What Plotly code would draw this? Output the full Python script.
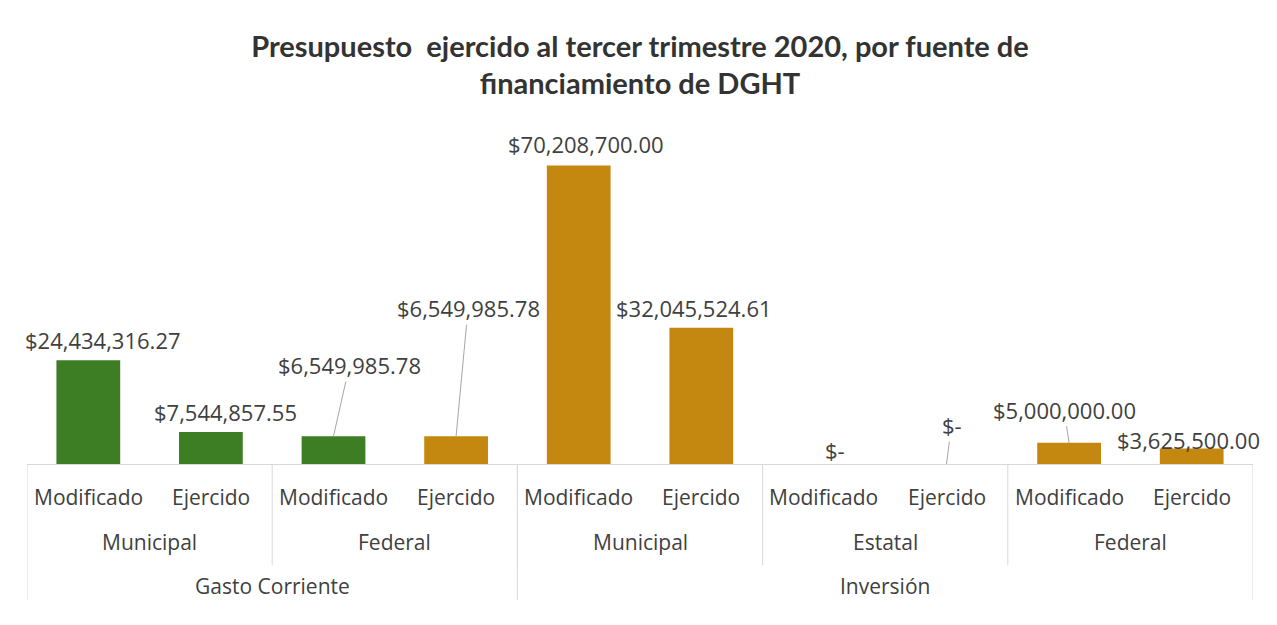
import plotly.graph_objects as go

# ---- data ----
group_labels = ["Gasto Corriente", "Inversión"]
group_sizes = [4, 6]
source_labels = ["Municipal", "Federal", "Municipal", "Estatal", "Federal"]
source_sizes = [2, 2, 2, 2, 2]
leaf_labels = ["Modificado", "Ejercido", "Modificado", "Ejercido", "Modificado",
               "Ejercido", "Modificado", "Ejercido", "Modificado", "Ejercido"]
values = [24434316.27, 7544857.55, 6549985.78, 6549985.78, 70208700.00,
          32045524.61, 0.0, 0.0, 5000000.00, 3625500.00]
bar_colors = ["#3d7d24", "#3d7d24", "#3d7d24", "#c4870f", "#c4870f",
              "#c4870f", "#c4870f", "#c4870f", "#c4870f", "#c4870f"]

# label placement (pixel offsets of label centre from bar top) and leader-line flag
label_dx = [15, 15, 16, 12, 7, -7, 11, 5, -5, -3]
label_dy = [-20, -20, -71, -128, -22, -20, -14, -39, -33, -9]
leader = [False, False, True, True, False, False, False, True, True, False]

TEXT = "#404040"
GRID = "#d9d9d9"
FONT = "Open Sans"
PAGE_OFFSET = 8  # default body margin of the html page

W, H = 1277 - PAGE_OFFSET, 625 - PAGE_OFFSET
PLOT_H = 340


def fmt(v):
    return "$-" if v == 0 else "${:,.2f}".format(v)


x = list(range(len(values)))
fig = go.Figure(go.Bar(x=x, y=values, marker=dict(color=bar_colors, line=dict(width=0)),
                       width=0.52, hoverinfo="skip"))

ann = []
for i, v in enumerate(values):
    if leader[i]:
        ann.append(dict(x=i, y=v, xref="x", yref="y", text=fmt(v), showarrow=True,
                        arrowhead=0, arrowwidth=1, arrowcolor="#a6a6a6",
                        ax=label_dx[i], ay=label_dy[i], standoff=0,
                        font=dict(family=FONT, size=22, color=TEXT)))
    else:
        ann.append(dict(x=i, y=v, xref="x", yref="y", text=fmt(v), showarrow=False,
                        xshift=label_dx[i], yshift=-label_dy[i],
                        font=dict(family=FONT, size=22, color=TEXT)))

shapes = []
for i, lab in enumerate(leaf_labels):
    ann.append(dict(x=i, y=0, xref="x", yref="paper", yshift=-33, text=lab,
                    showarrow=False, yanchor="middle",
                    font=dict(family=FONT, size=21, color=TEXT)))
pos = 0
for lab, n in zip(source_labels, source_sizes):
    ann.append(dict(x=pos + (n - 1) / 2, y=0, xref="x", yref="paper", yshift=-78,
                    text=lab, showarrow=False, yanchor="middle",
                    font=dict(family=FONT, size=21, color=TEXT)))
    pos += n
    if pos < len(values):
        shapes.append(dict(type="line", xref="x", yref="paper", x0=pos - 0.5, x1=pos - 0.5,
                           y0=0, y1=-101 / PLOT_H, line=dict(color=GRID, width=1)))
pos = 0
for lab, n in zip(group_labels, group_sizes):
    ann.append(dict(x=pos + (n - 1) / 2, y=0, xref="x", yref="paper", yshift=-122,
                    text=lab, showarrow=False, yanchor="middle",
                    font=dict(family=FONT, size=21, color=TEXT)))
    shapes.append(dict(type="line", xref="x", yref="paper", x0=pos - 0.5, x1=pos - 0.5,
                       y0=0, y1=-136 / PLOT_H, line=dict(color=GRID, width=1)))
    pos += n
shapes.append(dict(type="line", xref="x", yref="paper", x0=pos - 0.5, x1=pos - 0.5,
                   y0=0, y1=-136 / PLOT_H, line=dict(color=GRID, width=1)))

fig.update_layout(
    width=W, height=H,
    margin=dict(l=27 - PAGE_OFFSET, r=24, t=124 - PAGE_OFFSET, b=161),
    paper_bgcolor="white", plot_bgcolor="white",
    showlegend=False,
    title=dict(text="Presupuesto  ejercido al tercer trimestre 2020, por fuente de<br>financiamiento de DGHT",
               x=0.5, xref="paper", xanchor="center", y=1 - (56.5 - PAGE_OFFSET) / H,
               yref="container", yanchor="middle",
               font=dict(family="Lato", size=29, color="#333333", weight="bold")),
    xaxis=dict(range=[-0.5, 9.5], showticklabels=False, showgrid=False, zeroline=False,
               showline=True, linecolor=GRID, linewidth=1, fixedrange=True),
    yaxis=dict(range=[0, 80e6], visible=False, showgrid=False, zeroline=False),
    annotations=ann, shapes=shapes,
)

fig.write_html("out.html")
